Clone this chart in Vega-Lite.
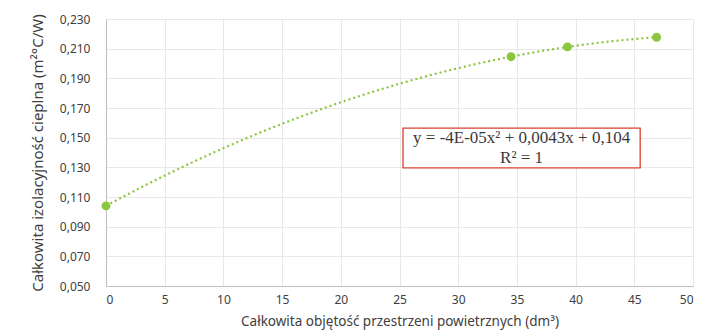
{
  "$schema": "https://vega.github.io/schema/vega-lite/v6.json",
  "width": 587,
  "height": 267,
  "autosize": {"type": "none"},
  "padding": {"left": 106, "top": 19, "right": 12, "bottom": 48},
  "background": "white",
  "config": {
    "locale": {"number": {"decimal": ",", "thousands": " ", "grouping": [3], "currency": ["", " zł"]}},
    "view": {"stroke": null},
    "axis": {
      "labelFont": "Noto Sans", "titleFont": "Noto Sans",
      "labelColor": "#404040", "titleColor": "#404040",
      "labelFontSize": 12, "titleFontSize": 14, "titleFontWeight": "normal",
      "gridColor": "#e8e8e8", "domainColor": "#bfbfbf", "ticks": false,
      "labelOverlap": false
    }
  },
  "datasets": {
    "points": [
      {"x": 0, "y": 0.104},
      {"x": 34.5, "y": 0.2046},
      {"x": 39.3, "y": 0.2112},
      {"x": 46.9, "y": 0.2177}
    ],
    "note": [
      {"line1": "y = -4E-05x² + 0,0043x + 0,104", "line2": "R² = 1"}
    ]
  },
  "layer": [
    {
      "data": {"name": "points"},
      "transform": [{"regression": "y", "on": "x", "method": "poly", "order": 2}],
      "mark": {"type": "line", "color": "#8cc63f", "strokeWidth": 2.2, "strokeDash": [2, 3], "interpolate": "monotone"},
      "encoding": {
        "x": {"field": "x", "type": "quantitative",
          "scale": {"domain": [0, 50], "nice": false},
          "axis": {"values": [0,5,10,15,20,25,30,35,40,45,50], "tickCount": 20, "labelPadding": 8, "title": "Całkowita objętość przestrzeni powietrznych (dm³)", "titleFontSize": 13.5, "titlePadding": 9, "domain": true, "grid": true}},
        "y": {"field": "y", "type": "quantitative",
          "scale": {"domain": [0.05, 0.23], "nice": false, "zero": false},
          "axis": {"values": [0.05,0.07,0.09,0.11,0.13,0.15,0.17,0.19,0.21,0.23], "tickCount": 20, "format": ".3f", "labelPadding": 16, "title": "Całkowita izolacyjność cieplna (m²°C/W)", "titleFontSize": 15, "titlePadding": 14, "grid": true}}
      }
    },
    {
      "data": {"name": "note"},
      "mark": {"type": "rect", "fill": "white", "stroke": "#d9412f", "strokeWidth": 1.3},
      "encoding": {
        "x": {"datum": 25.3, "type": "quantitative"},
        "x2": {"datum": 45.5},
        "y": {"datum": 0.1565, "type": "quantitative"},
        "y2": {"datum": 0.1296}
      }
    },
    {
      "data": {"name": "note"},
      "mark": {"type": "text", "font": "Liberation Serif", "fontSize": 17, "fontWeight": "normal", "color": "#3a3a3a", "align": "center", "baseline": "middle"},
      "encoding": {
        "text": {"field": "line1"},
        "x": {"datum": 35.4, "type": "quantitative"},
        "y": {"datum": 0.1500, "type": "quantitative"}
      }
    },
    {
      "data": {"name": "note"},
      "mark": {"type": "text", "font": "Liberation Serif", "fontSize": 17, "fontWeight": "normal", "color": "#3a3a3a", "align": "center", "baseline": "middle"},
      "encoding": {
        "text": {"field": "line2"},
        "x": {"datum": 35.4, "type": "quantitative"},
        "y": {"datum": 0.1365, "type": "quantitative"}
      }
    },
    {
      "data": {"name": "points"},
      "mark": {"type": "circle", "color": "#8cc63f", "size": 80, "opacity": 1},
      "encoding": {
        "x": {"field": "x", "type": "quantitative"},
        "y": {"field": "y", "type": "quantitative"}
      }
    }
  ]
}
